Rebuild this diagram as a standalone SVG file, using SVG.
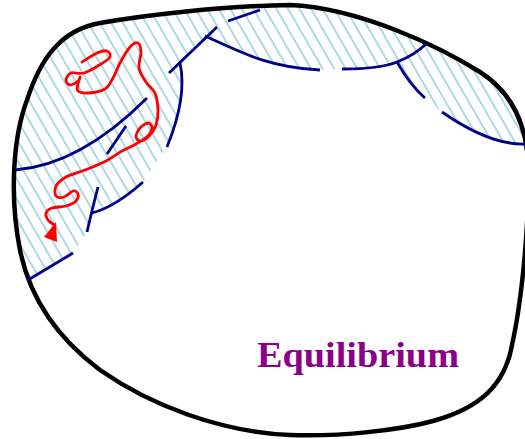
<svg xmlns="http://www.w3.org/2000/svg" width="525" height="439" viewBox="0 0 525 439">
<style>
.outline{fill:none;stroke:#000;stroke-width:4.5;stroke-linejoin:round}
.wall{fill:none;stroke:#00008B;stroke-width:2.8;stroke-linecap:butt}
.walk{fill:none;stroke:#ff0000;stroke-width:2.8;stroke-linecap:round;stroke-linejoin:round}
.label{font-family:"Liberation Serif","Times New Roman",serif;font-weight:bold;font-size:35px;fill:#8B008B}
</style>
<defs>
<clipPath id="inside">
<path d="M100,23 C140,16 220,6 290,5 C360,8 440,47 480,72 C505,88 525,115 528,160 C530,220 522,300 512,345 C505,385 480,408 433,421 C400,430 340,437 290,435 C220,432 150,405 100,370 C60,340 30,300 20,250 C10,200 12,140 27,100 C40,60 60,30 100,23 Z"/>
</clipPath>
<pattern id="hatch" patternUnits="userSpaceOnUse" width="10" height="10" patternTransform="rotate(-30)">
<line x1="5" y1="-2" x2="5" y2="12" stroke="#add8e6" stroke-width="2"/>
</pattern>
</defs>
<g id="region">
<path clip-path="url(#inside)" fill="url(#hatch)" d="M0,300 L28,280 L73,253 L87,232 L93,213 Q115,207 143,182 L167,147 C178,120 186,90 180,63 L205,36 C240,52 270,68 320,70 L342,69 C365,69 385,67 397,62 Q410,85 425,98 L442,112 C465,128 495,145 525,144 L545,144 L545,-5 L0,-5 Z"/>
</g>
<g id="boundary">
<path class="outline" d="M100,23 C140,16 220,6 290,5 C360,8 440,47 480,72 C505,88 525,115 528,160 C530,220 522,300 512,345 C505,385 480,408 433,421 C400,430 340,437 290,435 C220,432 150,405 100,370 C60,340 30,300 20,250 C10,200 12,140 27,100 C40,60 60,30 100,23 Z"/>
</g>
<g id="walls">
<path class="wall" d="M28,280 L73,253"/>
<path class="wall" d="M87,232 Q92,210 98,187"/>
<path class="wall" d="M92,213 Q115,207 143,182"/>
<path class="wall" d="M15,170 C55,167 100,145 147,98"/>
<path class="wall" d="M107,154 L126,126"/>
<path class="wall" d="M167,147 C178,120 186,90 180,63"/>
<path class="wall" d="M169,73 L217,27"/>
<path class="wall" d="M228,21 L260,10"/>
<path class="wall" d="M205,36 C240,52 270,68 320,70"/>
<path class="wall" d="M342,69 C365,69 385,67 397,62 C410,57 420,50 427,43"/>
<path class="wall" d="M397,62 Q410,85 425,98"/>
<path class="wall" d="M442,112 C465,128 495,145 525,144"/>
</g>
<g id="walk">
<path class="walk" d="M82,62 C84.5,60.5 92.8,54.8 97,53 C101.2,51.2 104.8,50.3 107,51 C109.2,51.7 111,54.8 110,57 C109,59.2 105.3,61.3 101,64 C96.7,66.7 89,71.5 84,73 C79,74.5 74,71.8 71,73 C68,74.2 66.2,78 66,80 C65.8,82 68,84.8 70,85 C72,85.2 76.3,82.3 78,81 C79.7,79.7 80,77.5 80,77 C80,77.5 78.3,81.7 78,84 C77.7,86.3 76.3,89.5 78,91 C79.7,92.5 83.5,93.3 88,93 C92.5,92.7 100.8,91.5 105,89 C109.2,86.5 110.5,82.3 113,78 C115.5,73.7 117.2,68.2 120,63 C122.8,57.8 127,50.3 130,47 C133,43.7 136.2,42.2 138,43 C139.8,43.8 140.8,47.8 141,52 C141.2,56.2 138.2,63 139,68 C139.8,73 143.3,77.8 146,82 C148.7,86.2 153,88.3 155,93 C157,97.7 157.8,104.7 158,110 C158.2,115.3 157.3,120.8 156,125 C154.7,129.2 152.5,132.3 150,135 C147.5,137.7 143.3,140.7 141,141 C138.7,141.3 136.2,139.2 136,137 C135.8,134.8 138,130.3 140,128 C142,125.7 146,123 148,123 C150,123 152,125.8 152,128 C152,130.2 150.7,133.3 148,136 C145.3,138.7 140.3,141.5 136,144 C131.7,146.5 127,148.2 122,151 C117,153.8 112.2,157.8 106,161 C99.8,164.2 91.7,167.3 85,170 C78.3,172.7 70.8,174.3 66,177 C61.2,179.7 57.7,182.8 56,186 C54.3,189.2 54.7,194.2 56,196 C57.3,197.8 61.2,197.8 64,197 C66.8,196.2 70.7,191.5 73,191 C75.3,190.5 77.5,192.3 78,194 C78.5,195.7 78,199 76,201 C74,203 70,204.8 66,206 C62,207.2 55.3,206.8 52,208 C48.7,209.2 46.7,211 46,213 C45.3,215 46.7,218 48,220 C49.3,222 53,224.2 54,225"/>
<polygon points="56,222 44,237 57,242" fill="#ff0000"/>
</g>
<g id="label">
<text class="label" x="257" y="367" textLength="202" lengthAdjust="spacingAndGlyphs">Equilibrium</text>
</g>
</svg>
